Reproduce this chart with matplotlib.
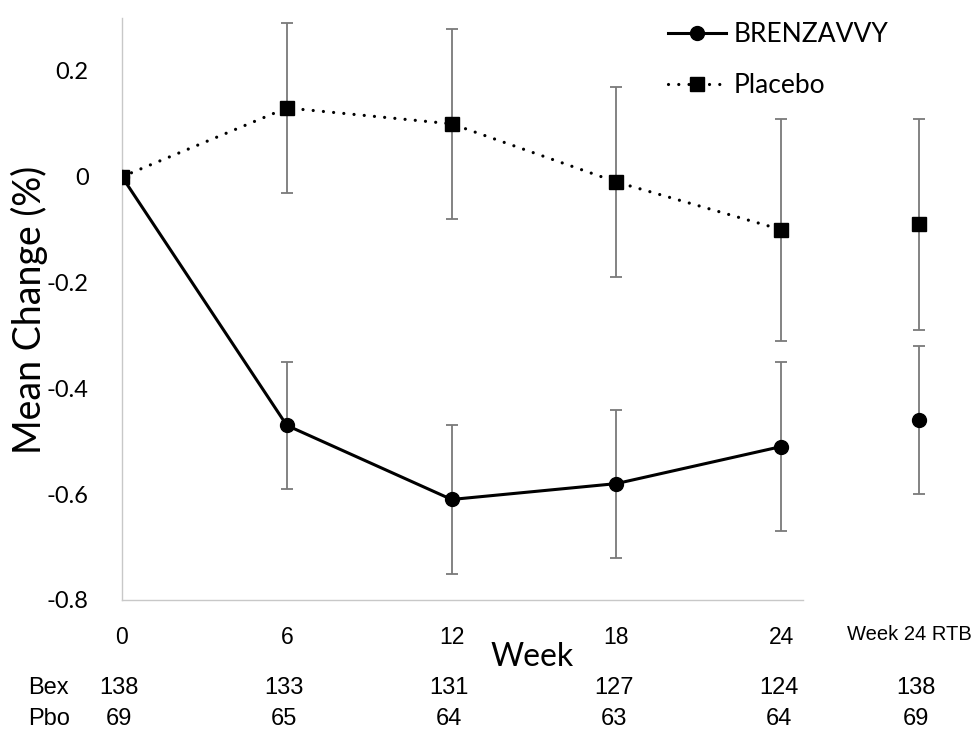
import matplotlib.pyplot as plt
from matplotlib.transforms import blended_transform_factory

# values
weeks = [0, 6, 12, 18, 24]
brenz_mean = [0.0, -0.47, -0.61, -0.58, -0.51]
brenz_err = [0.0, 0.12, 0.14, 0.14, 0.16]
pbo_mean = [0.0, 0.13, 0.10, -0.01, -0.10]
pbo_err = [0.0, 0.16, 0.18, 0.18, 0.21]

# week 24 return-to-baseline point, drawn apart from the lines
brenz_rtb = -0.46
brenz_rtb_err = 0.14
pbo_rtb = -0.09
pbo_rtb_err = 0.20

n_bex = [138, 133, 131, 127, 124, 138]
n_pbo = [69, 65, 64, 63, 64, 69]

y_ticks = [0.2, 0, -0.2, -0.4, -0.6, -0.8]
y_tick_labels = ['0.2', '0', '-0.2', '-0.4', '-0.6', '-0.8']

RTB_POS = 29
CALIBRI_LIKE = ['Lato', 'DejaVu Sans']
ARIAL_LIKE = ['Liberation Sans', 'DejaVu Sans']
ERR_COLOR = '#7a7a7a'

fig = plt.figure(figsize=(9.75, 7.3), dpi=100)
ax = fig.add_axes([122 / 975, 130 / 730, 824 / 975, 582 / 730])

ax.set_xlim(0, 30)
ax.set_ylim(-0.8, 0.3)

for s in ['top', 'right']:
    ax.spines[s].set_visible(False)
for s in ['left', 'bottom']:
    ax.spines[s].set_color('#c8c8c8')
    ax.spines[s].set_linewidth(1.0)
ax.spines['bottom'].set_bounds(0, 24.8)
ax.tick_params(length=0)

# error bars first so markers sit on top
err_kw = dict(fmt='none', ecolor=ERR_COLOR, elinewidth=1.3, capsize=4, capthick=1.3, zorder=2)
ax.errorbar(weeks[1:], pbo_mean[1:], yerr=pbo_err[1:], **err_kw)
ax.errorbar(weeks[1:], brenz_mean[1:], yerr=brenz_err[1:], **err_kw)
ax.errorbar([RTB_POS], [pbo_rtb], yerr=[pbo_rtb_err], clip_on=False, **err_kw)
ax.errorbar([RTB_POS], [brenz_rtb], yerr=[brenz_rtb_err], clip_on=False, **err_kw)

ax.plot(weeks, brenz_mean, color='black', lw=2.2, marker='o', markersize=10,
        label='BRENZAVVY', zorder=4)
ax.plot(weeks, pbo_mean, color='black', lw=2.3, linestyle=(0, (0.01, 3.2)),
        dash_capstyle='round', marker='s', markersize=9.5, label='Placebo', zorder=3)
ax.plot([RTB_POS], [brenz_rtb], color='black', marker='o', markersize=10,
        linestyle='none', clip_on=False, zorder=4)
ax.plot([RTB_POS], [pbo_rtb], color='black', marker='s', markersize=9.5,
        linestyle='none', clip_on=False, zorder=4)

ax.set_yticks(y_ticks)
ax.set_yticklabels(y_tick_labels, family=CALIBRI_LIKE, fontsize=17)
ax.tick_params(axis='y', pad=24)

ax.set_xticks(weeks)
ax.set_xticklabels([str(w) for w in weeks], family=ARIAL_LIKE, fontsize=16.5)
ax.tick_params(axis='x', pad=19)

fig.text(972 / 975, 1 - 634 / 730, 'Week 24 RTB', ha='right', va='center',
         family=ARIAL_LIKE, fontsize=14.5)

fig.text(532 / 975, 1 - 657 / 730, 'Week', ha='center', va='center',
         family=CALIBRI_LIKE, fontsize=23)
fig.text(29 / 975, 1 - 310 / 730, 'Mean Change (%)', rotation=90, ha='center', va='center',
         family=CALIBRI_LIKE, fontsize=27)

trans = blended_transform_factory(ax.transData, fig.transFigure)
positions = weeks + [RTB_POS]
for x, b, p in zip(positions, n_bex, n_pbo):
    ax.text(x - 0.1, 1 - 688 / 730, str(b), transform=trans, ha='center', va='center',
            family=ARIAL_LIKE, fontsize=17)
    ax.text(x - 0.1, 1 - 719 / 730, str(p), transform=trans, ha='center', va='center',
            family=ARIAL_LIKE, fontsize=17)
fig.text(28 / 975, 1 - 688 / 730, 'Bex', ha='left', va='center', family=ARIAL_LIKE, fontsize=17)
fig.text(28 / 975, 1 - 719 / 730, 'Pbo', ha='left', va='center', family=ARIAL_LIKE, fontsize=17)

leg = ax.legend(loc='upper left', bbox_to_anchor=(668 / 975, 0.97),
                bbox_transform=fig.transFigure, frameon=False, borderpad=0,
                borderaxespad=0, handlelength=2.2, handletextpad=0.3,
                labelspacing=1.0, prop={'family': CALIBRI_LIKE, 'size': 19})

fig.savefig('out.png', dpi=100)
